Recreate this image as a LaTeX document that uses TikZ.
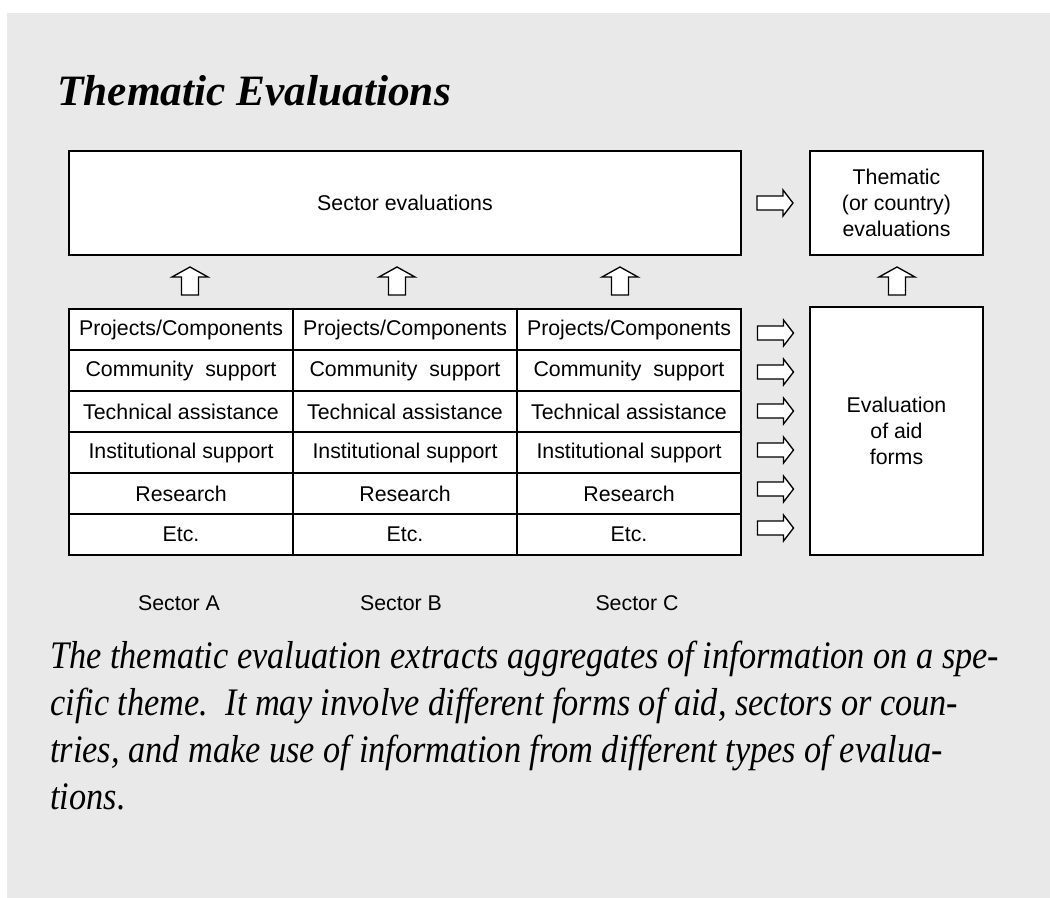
\documentclass[tikz,border=0pt]{standalone}
\usepackage{fontspec}
\setmainfont{Liberation Sans}
\newfontfamily\titlefont{Liberation Serif}
\newfontfamily\capfont[FakeStretch=0.88]{Liberation Serif}
\definecolor{panel}{HTML}{E9E9E9}

\tikzset{
  label font/.style={font=\fontsize{16}{19.5}\selectfont},
  box/.style={draw=black, fill=white, line width=1pt, inner sep=0pt,
              align=center, label font},
  cell/.style={box, minimum width=168pt, minimum height=30.75pt},
  blockarrow/.style={draw=black, fill=white, line width=1pt, line join=miter},
  rarrow/.pic={\path[blockarrow] (-18,-7) -- (8,-7) -- (8,-13) -- (18,0)
               -- (8,13) -- (8,7) -- (-18,7) -- cycle;},
  uarrow/.pic={\path[blockarrow] (-8.5,14) -- (-8.5,-4) -- (-18,-4) -- (0,-14)
               -- (18,-4) -- (8.5,-4) -- (8.5,14) -- cycle;},
  caption line/.style={anchor=base west, inner sep=0pt,
               font=\capfont\itshape\fontsize{29.25}{35.5}\selectfont}
}

\begin{document}
\begin{tikzpicture}[x=0.75pt, y=-0.75pt]
  % page and grey panel
  \useasboundingbox (0,0) rectangle (1050,898);
  \fill[white] (0,0) rectangle (1050,898);
  \fill[panel] (7,13) rectangle (1050,898);

  % heading
  \node[anchor=base west, inner sep=0pt,
        font=\titlefont\bfseries\itshape\fontsize{32.5}{39}\selectfont]
        (title) at (57,106) {Thematic Evaluations};

  % upper level
  \node[box, minimum width=504pt, minimum height=78pt] (secev) at (405,203)
        {Sector evaluations};
  \node[box, minimum width=129.75pt, minimum height=78pt] (them) at (896.5,203)
        {Thematic\\(or country)\\evaluations};

  % aid forms per sector
  \foreach \c/\cx in {1/181, 2/405, 3/629} {
    \foreach \r/\txt in {1/{Projects/Components}, 2/{Community~ support},
                         3/{Technical assistance}, 4/{Institutional support},
                         5/{Research}, 6/{Etc.}} {
      \node[cell] (c\c-\r) at (\cx, {329.5+41*(\r-1)}) {\txt};
    }
  }

  \node[box, minimum width=129.75pt, minimum height=186pt] (aid) at (896.5,431)
        {Evaluation\\of aid\\forms};

  % block arrows
  \pic at (775,203) {rarrow};
  \foreach \ay in {333, 372, 411, 450, 489, 528}
    \pic at (775.5,\ay) {rarrow};
  \foreach \ax in {190, 397, 620, 897}
    \pic at (\ax,281) {uarrow};

  % sector names
  \node[label font, inner sep=0pt] (sa) at (179,603) {Sector A};
  \node[label font, inner sep=0pt] (sb) at (401,603) {Sector B};
  \node[label font, inner sep=0pt] (sc) at (637,603) {Sector C};

  % explanatory paragraph
  \node[caption line] (cap1) at (50,668)
    {The thematic evaluation extracts aggregates of information on a spe-};
  \node[caption line] (cap2) at (50,715)
    {cific theme.\ \ It may involve different forms of aid, sectors or coun-};
  \node[caption line] (cap3) at (50,762)
    {tries, and make use of information from different types of evalua-};
  \node[caption line] (cap4) at (50,809)
    {tions.};
\end{tikzpicture}
\end{document}
